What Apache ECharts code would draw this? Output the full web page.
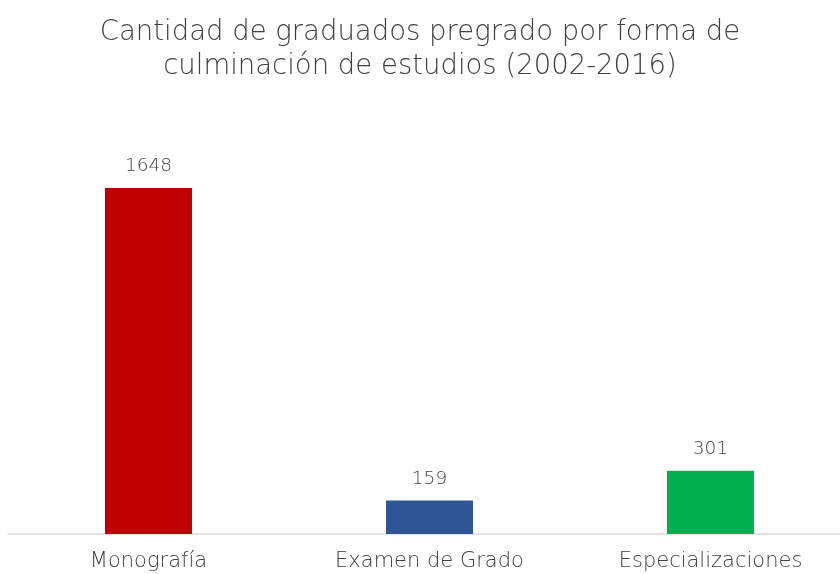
<!DOCTYPE html>
<html><head><meta charset="utf-8">
<script src="https://cdn.jsdelivr.net/npm/echarts@6/dist/echarts.min.js"></script>
<style>html,body{margin:0;padding:0;background:#fff}#c{width:840px;height:574px}</style>
</head><body><div id="c"></div>
<script>
const categories = ['Monografía', 'Examen de Grado', 'Especializaciones'];
const values = [1648, 159, 301];
const colors = ['#C00000', '#2F5597', '#00B050'];
const titleText = 'Cantidad de graduados pregrado por forma de\nculminación de estudios (2002-2016)';
const FONT = 'DejaVu Sans';

const chart = echarts.init(document.getElementById('c'));
chart.setOption({
  animation: false,
  title: {
    text: titleText,
    left: 'center', top: 11,
    textStyle: { fontFamily: FONT, fontWeight: 200, fontSize: 27.5, color: '#404040', lineHeight: 34 }
  },
  grid: { left: 8, width: 843, top: 188, bottom: 40, outerBoundsMode: 'none', containLabel: false },
  xAxis: {
    type: 'category', data: categories,
    axisLine: { lineStyle: { color: '#D9D9D9', width: 1.5 } },
    axisTick: { show: false },
    axisLabel: { fontFamily: FONT, fontWeight: 200, fontSize: 21, color: '#404040', margin: 17 }
  },
  yAxis: {
    type: 'value', min: 0, max: 1648, show: false, splitLine: { show: false }
  },
  series: [{
    type: 'bar', barWidth: 87,
    data: values.map((v, i) => ({ value: v, itemStyle: { color: colors[i] } })),
    label: { show: true, position: 'top', distance: 12, fontFamily: FONT, fontWeight: 200, fontSize: 18.5, color: '#404040' }
  }]
});
</script></body></html>
